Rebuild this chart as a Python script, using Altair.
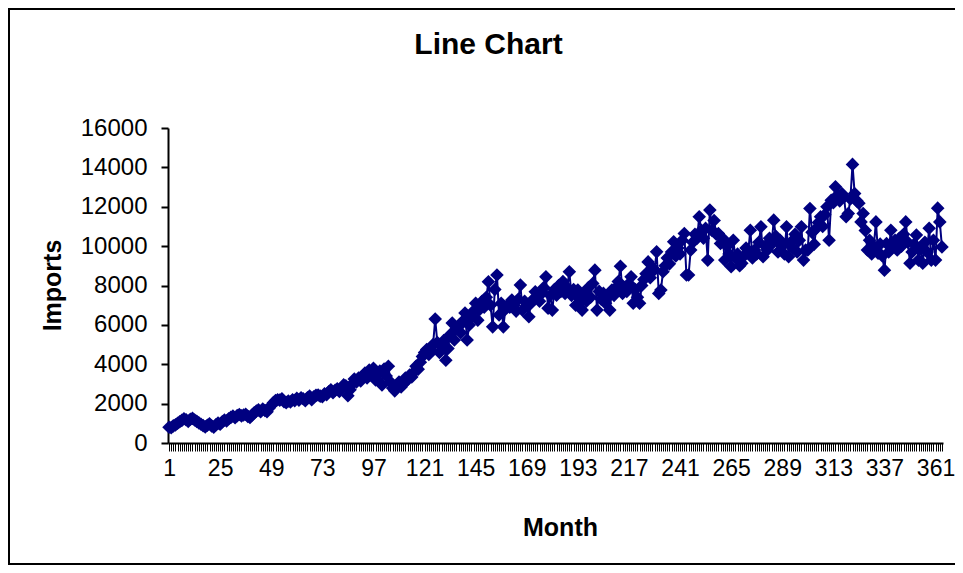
import altair as alt
import pandas as pd

# Monthly import values (12 per row)
y01 = [800, 780, 870, 920, 1000, 1080, 1150, 1230, 1180, 1100, 1210, 1250]
y02 = [1170, 1100, 1020, 950, 880, 820, 900, 980, 860, 800, 930, 1010]
y03 = [950, 1080, 1170, 1120, 1230, 1300, 1370, 1280, 1390, 1450, 1380, 1420]
y04 = [1460, 1350, 1300, 1420, 1540, 1620, 1680, 1590, 1730, 1650, 1590, 1780]
y05 = [1900, 2050, 2150, 2200, 2180, 2250, 2100, 2050, 2130, 2080, 2200, 2150]
y06 = [2270, 2180, 2300, 2250, 2150, 2300, 2380, 2200, 2350, 2420, 2440, 2380]
y07 = [2350, 2500, 2450, 2600, 2700, 2550, 2680, 2750, 2620, 2800, 2950, 2900]
y08 = [2400, 2700, 3000, 3250, 3100, 3300, 3150, 3400, 3550, 3300, 3700, 3450]
y09 = [3800, 3200, 3550, 3650, 2950, 3750, 3400, 3900, 3100, 2800, 2650, 2900]
y10 = [3100, 2850, 3000, 3300, 3200, 3450, 3350, 3600, 3900, 3750, 4100, 4400]
y11 = [4600, 4750, 4500, 4720, 5000, 6300, 5100, 4600, 4900, 5200, 4200, 4800]
y12 = [5500, 6090, 5230, 5800, 5900, 5600, 6200, 6600, 5230, 6000, 6400, 6700]
y13 = [7100, 6240, 6800, 7200, 6900, 7400, 8190, 7000, 5900, 7800, 8530, 6500]
y14 = [7100, 5900, 6800, 7000, 6900, 7260, 7000, 6700, 7300, 8020, 6750, 7200]
y15 = [7000, 6410, 7100, 7300, 7680, 7400, 7200, 7600, 7900, 8440, 6850, 7500]
y16 = [6750, 7800, 7510, 8000, 7700, 8200, 7600, 7900, 8700, 7500, 7800, 7000]
y17 = [7770, 7300, 6750, 7600, 7200, 7900, 7400, 8100, 8780, 6750, 7700, 7300]
y18 = [7600, 7100, 7400, 6750, 7770, 7500, 7900, 8200, 8980, 7600, 7900, 7700]
y19 = [8100, 8440, 7100, 7800, 7400, 7100, 8000, 8300, 8600, 9200, 8400, 8900]
y20 = [8800, 9710, 7600, 7770, 8700, 9000, 9400, 9100, 9700, 10220, 9500, 9900]
y21 = [9600, 10300, 10640, 8530, 8530, 9800, 10200, 10600, 10400, 11490, 10800, 10400]
y22 = [10900, 9290, 11830, 10800, 11300, 10600, 10640, 10130, 10400, 9290, 10000, 9600]
y23 = [8950, 10300, 9400, 9600, 9000, 9130, 9500, 9900, 9700, 10810, 9400, 9800]
y24 = [9600, 10200, 10980, 9460, 10000, 9800, 10400, 10100, 11320, 10500, 9700, 10300]
y25 = [10000, 9600, 10980, 9460, 10200, 9900, 10600, 9700, 10300, 10980, 9290, 9800]
y26 = [9800, 11910, 10700, 10100, 10900, 11200, 11490, 11000, 11600, 12000, 10300, 12330]
y27 = [12200, 13010, 12600, 12300, 12670, 12500, 11490, 11660, 12400, 14150, 12670, 12300]
y28 = [12180, 11230, 11660, 10800, 9800, 10300, 9600, 10000, 11230, 9640, 10100, 9500]
y29 = [8780, 10130, 9700, 10810, 9960, 10300, 9800, 10400, 10000, 10600, 11230, 10200]
y30 = [9130, 9700, 10100, 10560, 9290, 9900, 9130, 10200, 9700, 10910, 9290, 10300]
y31 = [9290, 11930, 11230, 9960]

imports = (y01 + y02 + y03 + y04 + y05 + y06 + y07 + y08 + y09 + y10 + y11 + y12 +
           y13 + y14 + y15 + y16 + y17 + y18 + y19 + y20 + y21 + y22 + y23 + y24 +
           y25 + y26 + y27 + y28 + y29 + y30 + y31)
months = list(range(1, len(imports) + 1))
y_ticks = list(range(0, 16001, 2000))

df = pd.DataFrame({"Month": months, "Imports": imports})

FONT = "Liberation Sans"
NAVY = "#000080"
W, H = 775, 315

x_enc = alt.X(
    "Month:Q",
    scale=alt.Scale(domain=[0.5, len(months) + 0.5], nice=False, zero=False),
    axis=alt.Axis(
        title="Month",
        values=months,
        format="d",
        labelExpr="(datum.value - 1) % 24 == 0 ? datum.label : ''",
        labelOverlap=False,
        labelFlush=False,
        labelBound=False,
        grid=False,
        domainColor="black",
        domainWidth=2,
        tickColor="black",
        tickWidth=1,
        tickSize=8,
        labelPadding=6,
        labelColor="black",
        labelFont=FONT,
        labelFontSize=23,
        titleFont=FONT,
        titleFontSize=25,
        titleFontWeight="bold",
        titleColor="black",
        titleX=392,
        titleY=84,
        titleBaseline="middle",
    ),
)
y_enc = alt.Y(
    "Imports:Q",
    scale=alt.Scale(domain=[0, 16000], nice=False),
    axis=alt.Axis(
        title="Imports",
        values=y_ticks,
        format="d",
        labelOverlap=False,
        labelFlush=False,
        grid=False,
        domainColor="black",
        domainWidth=2,
        tickColor="black",
        tickWidth=2,
        tickSize=7,
        labelPadding=14,
        labelColor="black",
        labelFont=FONT,
        labelFontSize=24,
        titleFont=FONT,
        titleFontSize=25,
        titleFontWeight="bold",
        titleColor="black",
        titleX=-116,
        titleY=157,
        titleAngle=-90,
        titleAlign="center",
        titleBaseline="middle",
    ),
)

base = alt.Chart(df).encode(x=x_enc, y=y_enc)
line = base.mark_line(color=NAVY, strokeWidth=2)
pts = base.mark_point(shape="diamond", filled=True, color=NAVY, size=185, opacity=1)

# outer chart frame (left, top and bottom edges; the right edge lies off-page)
frame_top = alt.Chart(df).mark_rule(color="black", strokeWidth=2).encode(
    x=alt.value(-159), x2=alt.value(800), y=alt.value(-119)
)
frame_bottom = alt.Chart(df).mark_rule(color="black", strokeWidth=2).encode(
    x=alt.value(-159), x2=alt.value(800), y=alt.value(436)
)
frame_left = alt.Chart(df).mark_rule(color="black", strokeWidth=2).encode(
    x=alt.value(-159), y=alt.value(-120), y2=alt.value(437)
)

chart = alt.layer(frame_top, frame_bottom, frame_left, line, pts).properties(
    width=W,
    height=H,
    autosize=alt.AutoSizeParams(type="none"),
    padding={"left": 160, "top": 120, "right": 12, "bottom": 122},
    title=alt.TitleParams(
        "Line Chart",
        font=FONT,
        fontSize=30,
        fontWeight="bold",
        color="black",
        anchor="middle",
        frame="group",
        dx=-67,
        baseline="alphabetic",
        offset=-77,
    ),
).configure_view(stroke=None)

chart.save("out.html", embed_options={"renderer": "svg", "actions": False})
